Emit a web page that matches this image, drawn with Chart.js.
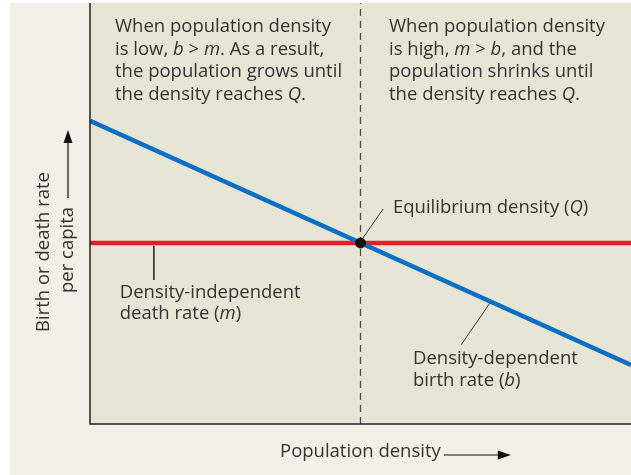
<!DOCTYPE html>
<html>
<head>
<meta charset="utf-8">
<script src="https://cdn.jsdelivr.net/npm/chart.js@4.4.1/dist/chart.umd.min.js"></script>
<style>
  body { margin: 0; background: #fff; }
  #wrap { width: 631px; height: 475px; }
</style>
</head>
<body>
<div id="wrap"><canvas id="chart"></canvas></div>
<script>
// population density (x) vs rate per capita (y), arbitrary units 0-100
const densityRange = [0, 100];
const birthRate = [72, 14];          // density-dependent, at low and high density
const deathRate = [43, 43];          // density-independent
const equilibrium = { x: 50, y: 43 };

// leader lines for the labels
const eqLeader = [{ x: 50.3, y: 43.9 }, { x: 54.2, y: 51.1 }];
const deathLeader = [{ x: 11.8, y: 42.3 }, { x: 11.8, y: 34.2 }];
const birthLeader = [{ x: 73.9, y: 28.7 }, { x: 68.6, y: 18.8 }];

// label texts: each line is a list of [text, italic]
const topLeftText = [
    [['When population density', false]],
    [['is low, ', false], ['b', true], [' > ', false], ['m', true], ['. As a result,', false]],
    [['the population grows until', false]],
    [['the density reaches ', false], ['Q', true], ['.', false]]
];
const topRightText = [
    [['When population density', false]],
    [['is high, ', false], ['m', true], [' > ', false], ['b', true], [', and the', false]],
    [['population shrinks until', false]],
    [['the density reaches ', false], ['Q', true], ['.', false]]
];
const eqText = [[['Equilibrium density (', false], ['Q', true], [')', false]]];
const deathText = [
    [['Density-independent', false]],
    [['death rate (', false], ['m', true], [')', false]]
];
const birthText = [
    [['Density-dependent', false]],
    [['birth rate (', false], ['b', true], [')', false]]
];
// where each label block starts (data units, first line centre)
const labelAnchors = [
    { lines: eqText, x: 56, y: 51.3 },
    { lines: deathText, x: 5.5, y: 31.2 },
    { lines: birthText, x: 59.7, y: 15.5 }
];

const FONT = '"Open Sans", "Noto Sans", sans-serif';
const FONT_SIZE = 18.5;
const TEXT_COLOR = '#333333';

function drawRich(ctx, lines, x, y, lineHeight, size) {
    ctx.save();
    ctx.fillStyle = TEXT_COLOR;
    ctx.textBaseline = 'middle';
    ctx.textAlign = 'left';
    lines.forEach((line, i) => {
        let cx = x;
        line.forEach(([txt, it]) => {
            ctx.font = (it ? 'italic ' : '') + size + 'px ' + FONT;
            ctx.fillText(txt, cx, y + i * lineHeight);
            cx += ctx.measureText(txt).width;
        });
    });
    ctx.restore();
}

function arrowHead(ctx, x, y, dir) {
    // dir: 'up' or 'right'; (x, y) is the tip
    ctx.beginPath();
    if (dir === 'up') {
        ctx.moveTo(x, y);
        ctx.lineTo(x - 4.5, y + 13);
        ctx.lineTo(x + 4.5, y + 13);
    } else {
        ctx.moveTo(x, y);
        ctx.lineTo(x - 13, y - 4.5);
        ctx.lineTo(x - 13, y + 4.5);
    }
    ctx.closePath();
    ctx.fill();
}

const decorPlugin = {
    id: 'decor',
    beforeDraw(chart) {
        const { ctx, chartArea: a, width, height } = chart;
        ctx.save();
        ctx.fillStyle = '#ffffff';
        ctx.fillRect(0, 0, width, height);
        ctx.fillStyle = '#f1efe7';
        ctx.fillRect(10, a.top, width - 10, height - a.top);
        ctx.fillStyle = '#e6e4d5';
        ctx.fillRect(a.left, a.top, a.right - a.left, a.bottom - a.top);
        ctx.restore();
    },
    afterDatasetsDraw(chart) {
        const { ctx, chartArea: a, scales } = chart;
        ctx.save();
        // axes
        ctx.strokeStyle = '#222';
        ctx.lineWidth = 1.5;
        ctx.beginPath();
        ctx.moveTo(a.left, a.top);
        ctx.lineTo(a.left, a.bottom);
        ctx.lineTo(a.right, a.bottom);
        ctx.stroke();

        // text blocks at the top
        drawRich(ctx, topLeftText, a.left + 25, a.top + 24, 22.5, FONT_SIZE);
        drawRich(ctx, topRightText, a.left + 299, a.top + 24, 22.5, FONT_SIZE);

        labelAnchors.forEach(l => {
            drawRich(ctx, l.lines, scales.x.getPixelForValue(l.x), scales.y.getPixelForValue(l.y), 21.5, FONT_SIZE);
        });

        // x axis title with arrow
        ctx.fillStyle = TEXT_COLOR;
        ctx.font = FONT_SIZE + 'px ' + FONT;
        ctx.textBaseline = 'middle';
        ctx.textAlign = 'left';
        const xt = 'Population density';
        const xtx = 280, xty = a.bottom + 28;
        ctx.fillText(xt, xtx, xty);
        const xEnd = xtx + ctx.measureText(xt).width;
        ctx.strokeStyle = '#111';
        ctx.lineWidth = 1.2;
        ctx.beginPath();
        ctx.moveTo(xEnd + 3, xty + 3);
        ctx.lineTo(xEnd + 58, xty + 3);
        ctx.stroke();
        ctx.fillStyle = '#111';
        arrowHead(ctx, xEnd + 70, xty + 3, 'right');

        // y axis title with arrow
        ctx.save();
        ctx.translate(a.left - 46, 252);
        ctx.rotate(-Math.PI / 2);
        ctx.fillStyle = TEXT_COLOR;
        ctx.textAlign = 'center';
        ctx.fillText('Birth or death rate', 0, 0);
        ctx.restore();
        ctx.save();
        ctx.translate(a.left - 22, 250);
        ctx.rotate(-Math.PI / 2);
        ctx.fillStyle = TEXT_COLOR;
        ctx.textAlign = 'center';
        ctx.fillText('per capita', 0, 0);
        ctx.restore();
        ctx.beginPath();
        ctx.moveTo(a.left - 22, 198);
        ctx.lineTo(a.left - 22, 140);
        ctx.stroke();
        arrowHead(ctx, a.left - 22, 130, 'up');
        ctx.restore();
    }
};

const leaderStyle = {
    borderColor: '#333',
    borderWidth: 1,
    pointRadius: 0,
    fill: false
};

new Chart(document.getElementById('chart'), {
    type: 'line',
    data: {
        datasets: [
            {
                label: 'Density-dependent birth rate (b)',
                data: densityRange.map((x, i) => ({ x, y: birthRate[i] })),
                borderColor: '#0a6fc4',
                borderWidth: 4.5,
                pointRadius: 0,
                order: 2
            },
            {
                label: 'Density-independent death rate (m)',
                data: densityRange.map((x, i) => ({ x, y: deathRate[i] })),
                borderColor: '#e61e2b',
                borderWidth: 4.5,
                pointRadius: 0,
                order: 3
            },
            {
                label: 'Q line',
                data: [{ x: equilibrium.x, y: 0 }, { x: equilibrium.x, y: 100 }],
                borderColor: '#4a4a4a',
                borderWidth: 1.3,
                borderDash: [7, 5],
                pointRadius: 0,
                order: 4
            },
            {
                label: 'Equilibrium density (Q)',
                data: [equilibrium],
                showLine: false,
                pointRadius: 5,
                pointBackgroundColor: '#111',
                pointBorderColor: '#111',
                order: 0
            },
            Object.assign({ label: 'eq leader', data: eqLeader, order: 1 }, leaderStyle),
            Object.assign({ label: 'death leader', data: deathLeader, order: 1 }, leaderStyle),
            Object.assign({ label: 'birth leader', data: birthLeader, order: 1 }, leaderStyle)
        ]
    },
    options: {
        responsive: true,
        maintainAspectRatio: false,
        animation: false,
        layout: { autoPadding: false, padding: { left: 90, top: 3, right: 0, bottom: 51 } },
        plugins: {
            legend: { display: false },
            tooltip: { enabled: false }
        },
        scales: {
            x: { type: 'linear', min: 0, max: 100, display: false },
            y: { type: 'linear', min: 0, max: 100, display: false }
        }
    },
    plugins: [decorPlugin]
});
</script>
</body>
</html>
